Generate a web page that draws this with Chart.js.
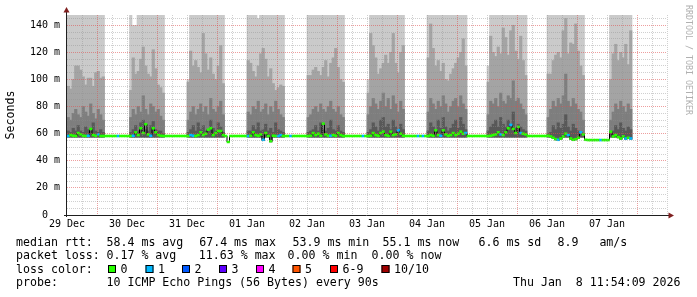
<!DOCTYPE html>
<html>
<head>
<meta charset="utf-8">
<script src="https://cdn.jsdelivr.net/npm/chart.js@4.4.1/dist/chart.umd.min.js"></script>
<style>
  html, body { margin: 0; padding: 0; background: #fff; }
</style>
</head>
<body>
<canvas id="smokeChart" width="697" height="297"></canvas>
<script>
// hours are counted from 29 Dec 00:00, one sample per hour
const dayLabels = ['29 Dec', '30 Dec', '31 Dec', '01 Jan', '02 Jan', '03 Jan', '04 Jan', '05 Jan', '06 Jan', '07 Jan'];

// median rtt (ms), one value per hour, h0..h225
const medianRtt = [
  58.3, 59, 58.5, 58.3, 60.5, 59.5, 58.5, 58.3, 58.5, 63.5, 59, 58.5, 59.5, 58.3, 58.3, 58.3, 58.3, 58.3, 58.3, 58.3, 58.3, 58.3, 58.3, 58.3,
  58.3, 58.3, 58.5, 61, 59, 64, 60.5, 67, 59.5, 58.5, 64, 61, 59, 58.5, 58.3, 58.3, 58.3, 58.3, 58.3, 58.3, 58.3, 58.3, 58.3, 58.3,
  58.3, 59, 58.5, 58.3, 59, 61, 59, 60, 63, 64, 59, 60.5, 62, 62, 59, 58.3, 53.9, 58.3, 58.3, 58.3, 58.3, 58.3, 58.3, 58.3,
  58.3, 58.5, 61, 59, 58.5, 59.5, 55.5, 60.5, 58.3, 54.5, 58.5, 58.3, 58.3, 59, 58.3, 58.3, 58.3, 58.3, 58.3, 58.3, 58.3, 58.3, 58.3, 58.3,
  58.3, 58.5, 60.5, 59, 60, 58.5, 67.4, 59.5, 58.5, 58.5, 59, 58.5, 60.5, 59, 58.3, 58.3, 58.3, 58.3, 58.3, 58.3, 58.3, 58.3, 58.3, 58.3,
  58.3, 58.5, 60.5, 59, 58.5, 60.5, 61.5, 59, 58.5, 61.5, 59, 59.5, 62.5, 60, 58.5, 58.3, 58.3, 58.3, 58.3, 58.3, 58.3, 58.3, 58.3, 58.3,
  58.3, 59, 58.5, 62.5, 59, 58.5, 62.5, 59.5, 58.5, 59, 60.5, 59, 60, 61.5, 60, 60.5, 58.3, 58.3, 58.3, 58.3, 58.3, 58.3, 58.3, 58.3,
  58.3, 58.5, 59, 59.5, 61, 59.5, 59, 61, 64, 66.5, 63.5, 60.5, 65, 60.5, 60, 59.5, 58.3, 58.3, 58.3, 58.3, 58.3, 58.3, 58.3, 58.3,
  58.5, 58, 57, 56, 55.5, 56.5, 58, 60, 59, 56.5, 55.5, 56, 57, 61, 59.5, 55.5, 55.3, 55.3, 55.3, 55.3, 55.3, 55.3, 55.3, 55.3,
  55.3, 61.5, 58, 59, 57.5, 56.5, 58, 56.5, 57, 56.5
];

// hours where 1 of 10 pings was lost
const lossHours = [0, 8, 12, 20, 26, 33, 49, 50, 72, 78, 84, 85, 89, 105, 118, 132, 140, 142, 149, 159, 173, 177, 181, 196, 200, 205, 213, 223, 225];

// busy periods with smoke: first hour of each block
const smokeStart = [0, 25, 48, 72, 96, 120, 144, 168, 192, 217];

// highest ping (ms)
const smokeTop = [
  [148, 148, 148, 148, 148, 148, 148, 148, 148, 148, 148, 148, 148, 148, 148],
  [148, 140, 140, 148, 148, 148, 148, 148, 148, 148, 148, 148, 148, 148],
  [100, 148, 148, 148, 148, 148, 148, 148, 148, 148, 148, 148, 148, 148, 148],
  [148, 148, 148, 148, 145, 148, 148, 148, 148, 148, 148, 148, 148, 148, 148],
  [148, 148, 148, 148, 148, 148, 148, 148, 148, 148, 148, 148, 148, 148, 148],
  [100, 148, 148, 148, 148, 148, 148, 148, 148, 148, 148, 148, 148, 148, 148],
  [148, 148, 148, 148, 148, 148, 148, 148, 148, 148, 148, 148, 148, 148, 148, 148],
  [110, 148, 148, 148, 148, 148, 148, 148, 148, 148, 148, 148, 148, 148, 148, 148],
  [148, 148, 148, 148, 148, 148, 148, 148, 148, 148, 148, 148, 148, 148, 148],
  [148, 148, 148, 148, 148, 148, 148, 148, 148]
];

// 9th ping
const smokeP9 = [
  [95, 93, 100, 110, 110, 107, 102, 96, 101, 101, 95, 105, 106, 101, 102],
  [92, 116, 104, 106, 115, 124, 110, 104, 102, 122, 108, 96, 94, 90],
  [98, 121, 110, 114, 109, 105, 134, 119, 107, 116, 104, 100, 110, 125, 97],
  [114, 112, 106, 102, 110, 119, 123, 115, 102, 108, 97, 92, 94, 96, 95],
  [103, 103, 107, 109, 106, 103, 109, 114, 102, 112, 116, 123, 109, 100, 98],
  [90, 134, 125, 116, 104, 108, 112, 118, 112, 120, 134, 112, 105, 120, 125],
  [116, 141, 123, 110, 114, 106, 112, 100, 99, 104, 108, 112, 116, 120, 130, 110],
  [98, 132, 120, 117, 124, 119, 138, 131, 118, 136, 140, 121, 115, 132, 114, 103],
  [104, 104, 114, 118, 120, 116, 136, 145, 119, 127, 126, 141, 121, 110, 103],
  [100, 119, 126, 114, 120, 116, 126, 111, 136]
];

// 8th ping
const smokeP8 = [
  [72, 70, 75, 78, 74, 72, 80, 76, 73, 82, 75, 71, 78, 74, 70],
  [72, 78, 74, 80, 76, 88, 78, 74, 82, 80, 76, 78, 73, 70],
  [70, 76, 80, 74, 78, 82, 76, 80, 74, 86, 78, 76, 80, 84, 74],
  [76, 74, 80, 78, 84, 76, 78, 82, 74, 80, 76, 84, 78, 74, 72],
  [72, 74, 78, 80, 76, 82, 78, 76, 80, 84, 78, 76, 80, 74, 72],
  [74, 80, 86, 82, 78, 84, 90, 80, 86, 78, 88, 82, 76, 84, 78],
  [76, 86, 82, 78, 84, 80, 88, 82, 76, 80, 84, 86, 80, 88, 82, 78],
  [74, 84, 82, 86, 80, 90, 84, 82, 88, 86, 99, 84, 86, 82, 78, 74],
  [72, 78, 84, 80, 86, 82, 88, 104, 84, 80, 86, 82, 78, 76, 70],
  [70, 76, 82, 78, 84, 80, 76, 82, 78]
];

// 7th ping
const smokeP7 = [
  [62, 61, 64, 62, 66, 62, 61, 65, 63, 62, 68, 62, 61, 63, 61],
  [61, 63, 66, 62, 68, 70, 63, 62, 66, 69, 63, 62, 62, 60],
  [61, 63, 66, 62, 68, 63, 66, 62, 63, 70, 64, 62, 68, 65, 61],
  [62, 62, 66, 63, 68, 62, 63, 67, 62, 64, 61, 68, 63, 62, 61],
  [61, 62, 63, 66, 62, 68, 63, 62, 64, 70, 63, 62, 66, 62, 61],
  [61, 63, 68, 65, 62, 70, 72, 65, 67, 63, 70, 65, 62, 67, 63],
  [62, 68, 65, 63, 70, 64, 72, 65, 62, 64, 67, 70, 64, 72, 67, 63],
  [62, 65, 67, 70, 65, 72, 67, 65, 70, 67, 76, 64, 67, 65, 63, 62],
  [60, 61, 66, 63, 68, 64, 67, 74, 65, 62, 67, 64, 62, 60, 58],
  [60, 62, 66, 63, 68, 64, 62, 65, 63]
];

const rttStats = ['58.4 ms avg', '67.4 ms max', '53.9 ms min', '55.1 ms now', '6.6 ms sd', '8.9   am/s'];
const lossStats = ['0.17 % avg', '11.63 % max', '0.00 % min', '0.00 % now'];
const lossLabels = ['0', '1', '2', '3', '4', '5', '6-9', '10/10'];
const lossColors = ['#26ff00', '#00b8ff', '#0059ff', '#5e00ff', '#ff00ff', '#ff5500', '#ff0000', '#a00000'];
const probeText = '10 ICMP Echo Pings (56 Bytes) every 90s';
const stampText = 'Thu Jan  8 11:54:09 2026';

const MONO = "'DejaVu Sans Mono', monospace";

function smokeBars(layer) {
  const pts = [];
  layer.forEach((vals, b) => vals.forEach((v, i) => {
    const h = smokeStart[b] + i;
    pts.push({ x: h + 0.5, y: [Math.min(medianRtt[h], 58) - 0.5, v] });
  }));
  return pts;
}

function barSet(layer, color, order) {
  return {
    type: 'bar', data: smokeBars(layer), backgroundColor: color,
    grouped: false, barPercentage: 1, categoryPercentage: 1, borderWidth: 0, order: order
  };
}

const medianBars = medianRtt.map((v, h) => ({ x: h + 0.5, y: [v - 0.7, v + 0.7] }));
const medianColors = medianRtt.map((v, h) => lossHours.includes(h) ? lossColors[1] : lossColors[0]);

// axes, arrows, watermark and the text block under the graph
const rrdDecor = {
  id: 'rrdDecor',
  afterDraw(chart) {
    const { ctx, chartArea: a } = chart;
    ctx.save();
    ctx.strokeStyle = '#1f1f1f';
    ctx.lineWidth = 1;
    ctx.beginPath();
    ctx.moveTo(a.left - 0.5, a.bottom + 2);
    ctx.lineTo(a.left - 0.5, 11);
    ctx.moveTo(a.left - 3, a.bottom + 0.5);
    ctx.lineTo(a.right + 2, a.bottom + 0.5);
    ctx.stroke();
    ctx.fillStyle = '#7f1f1f';
    ctx.beginPath();
    ctx.moveTo(a.left - 3.5, 12.5);
    ctx.lineTo(a.left + 2.5, 12.5);
    ctx.lineTo(a.left - 0.5, 7);
    ctx.closePath();
    ctx.fill();
    ctx.beginPath();
    ctx.moveTo(a.right + 1.5, a.bottom - 2.5);
    ctx.lineTo(a.right + 1.5, a.bottom + 3.5);
    ctx.lineTo(a.right + 7, a.bottom + 0.5);
    ctx.closePath();
    ctx.fill();

    // watermark
    ctx.save();
    ctx.translate(688, 5);
    ctx.rotate(Math.PI / 2);
    ctx.font = '8.3px ' + MONO;
    ctx.fillStyle = '#b0b0b0';
    ctx.textBaseline = 'middle';
    ctx.fillText('RRDTOOL / TOBI OETIKER', 0, 0);
    ctx.restore();

    // legend block
    ctx.font = '11.6px ' + MONO;
    ctx.fillStyle = '#000';
    ctx.textBaseline = 'alphabetic';
    const rows = [245.5, 259, 272.5, 286];
    ctx.fillText('median rtt:', 16, rows[0]);
    [106.5, 199.2, 292.5, 382.5, 478.5, 557.5].forEach((x, i) => ctx.fillText(rttStats[i], x, rows[0]));
    ctx.fillText('packet loss:', 16, rows[1]);
    [106.5, 198.8, 287.6, 371.6].forEach((x, i) => ctx.fillText(lossStats[i], x, rows[1]));
    ctx.fillText('loss color:', 16, rows[2]);
    [108, 145.5, 182, 219, 256, 292.5, 330, 381.5].forEach((x, i) => {
      ctx.fillStyle = lossColors[i];
      ctx.fillRect(x, 265, 8, 8);
      ctx.strokeStyle = '#000';
      ctx.strokeRect(x + 0.5, 265.5, 7, 7);
      ctx.fillStyle = '#000';
      ctx.fillText(lossLabels[i], x + 12.5, rows[2]);
    });
    ctx.fillText('probe:', 16, rows[3]);
    ctx.fillText(probeText, 106.5, rows[3]);
    ctx.textAlign = 'right';
    ctx.fillText(stampText, 680.5, rows[3]);
    ctx.restore();
  }
};

const gridGrey = 'rgba(143,143,143,0.42)';
const gridRed = 'rgba(222,79,79,0.55)';
const clear = 'rgba(0,0,0,0)';

new Chart(document.getElementById('smokeChart').getContext('2d'), {
  type: 'bar',
  data: {
    datasets: [
      {
        type: 'bar', data: medianBars, backgroundColor: medianColors,
        grouped: false, barPercentage: 1, categoryPercentage: 1, borderWidth: 0, order: 1
      },
      {
        type: 'line', data: medianRtt.map((v, h) => ({ x: h + 0.5, y: v })),
        stepped: 'middle', borderColor: '#000', borderWidth: 1, pointRadius: 0, fill: false, order: 2
      },
      barSet(smokeP7, '#585858', 3),
      barSet(smokeP8, '#7e7e7e', 4),
      barSet(smokeP9, '#a4a4a4', 5),
      barSet(smokeTop, '#cacaca', 6)
    ]
  },
  options: {
    responsive: false,
    animation: false,
    events: [],
    layout: { padding: { left: 0, top: 15, right: 30, bottom: 0 } },
    plugins: { legend: { display: false }, tooltip: { enabled: false } },
    scales: {
      x: {
        type: 'linear', min: 0, max: 240, offset: false,
        afterBuildTicks: (s) => { s.ticks = Array.from({ length: 41 }, (_, i) => ({ value: i * 6 })); },
        afterFit: (s) => { s.height = 82; },
        grid: {
          z: 1, drawTicks: false, lineWidth: 1, offset: false,
          color: (c) => !c.tick || c.tick.value === 0 ? clear : (c.tick.value % 24 === 12 ? gridRed : gridGrey)
        },
        border: { display: false, dash: [1, 1] },
        ticks: {
          autoSkip: false, maxRotation: 0, padding: 3, color: '#000',
          font: { family: MONO, size: 10 },
          callback: (v) => (v % 24 === 0 && v < 240) ? dayLabels[v / 24] : ''
        }
      },
      y: {
        min: 0, max: 147.6,
        afterBuildTicks: (s) => { s.ticks = Array.from({ length: 30 }, (_, i) => ({ value: i * 5 })); },
        afterFit: (s) => { s.width = 67; },
        grid: {
          z: 1, drawTicks: false, lineWidth: 1,
          color: (c) => !c.tick || c.tick.value === 0 ? clear : (c.tick.value % 20 === 0 ? gridRed : gridGrey)
        },
        border: { display: false, dash: [1, 1] },
        ticks: {
          autoSkip: false, padding: 7, color: '#000',
          font: { family: MONO, size: 10 },
          callback: (v) => v === 0 ? '0  ' : (v % 20 === 0 ? v + ' m' : '')
        },
        title: {
          display: true, text: 'Seconds', color: '#000',
          font: { family: MONO, size: 11.6 },
          padding: { top: 4, bottom: 0 }
        }
      }
    }
  },
  plugins: [rrdDecor]
});
</script>
</body>
</html>
